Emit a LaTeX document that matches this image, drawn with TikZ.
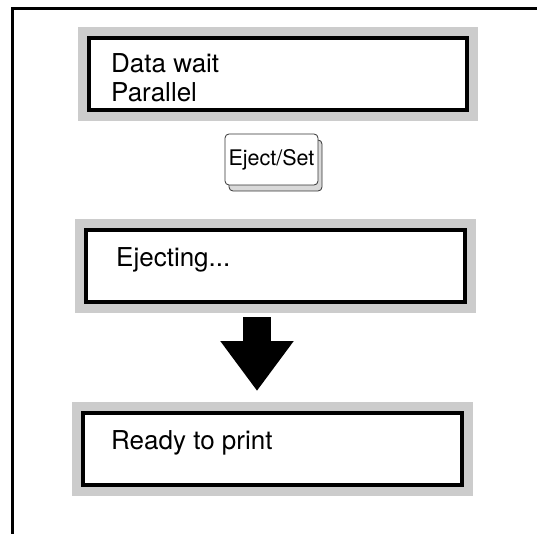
\documentclass[tikz,border=0pt]{standalone}
\usepackage{fontspec}
\setmainfont{TeX Gyre Heros}
\usetikzlibrary{arrows.meta}
\definecolor{panelgray}{HTML}{CCCCCC}
\definecolor{keyside}{HTML}{D9D9D9}
\definecolor{frameink}{HTML}{000000}
\tikzset{
  screen/.style={draw=black, line width=4pt, fill=white, inner sep=0pt,
    minimum height=72pt, preaction={draw=panelgray, line width=22pt}},
  msg/.style={anchor=base west, inner sep=0pt, align=left,
    font=\fontsize{26}{29}\selectfont},
  keycap/.style={draw=black!80, line width=0.8pt, rounded corners=4pt,
    minimum width=93pt, minimum height=51pt, inner sep=0pt},
  blockarrow/.style={line width=28pt, -{Triangle[length=50pt,width=70pt]}},
}
\begin{document}
\begin{tikzpicture}[x=1pt,y=-1pt]
\useasboundingbox (0,0) rectangle (537,534);
\draw[frameink,line width=3pt] (12.5,534) |- (537,8.5);
\foreach \nm/\cx/\cy/\bw in {scrA/278/74/378,scrB/275.5/266/379,scrC/272.5/448.5/379} {
  \node[screen, minimum width=\bw pt] (\nm) at (\cx,\cy) {};
}
\node[msg] (msgA) at (111,102) {Data wait\\Parallel};
\node[msg] (msgB) at (116,266) {Ejecting...};
\node[msg] (msgC) at (111,449) {Ready to print};
% key
\node[keycap, fill=keyside] (keyBack) at (275.5,165.5) {};
\node[keycap, fill=white, font=\fontsize{21.5}{24}\selectfont] (key) at (271.5,159.5) {Eject/Set};
% arrow
\coordinate (arrTop) at (257,317);
\coordinate (arrTip) at (257,391);
\draw[blockarrow] (arrTop) -- (arrTip);
\end{tikzpicture}
\end{document}
